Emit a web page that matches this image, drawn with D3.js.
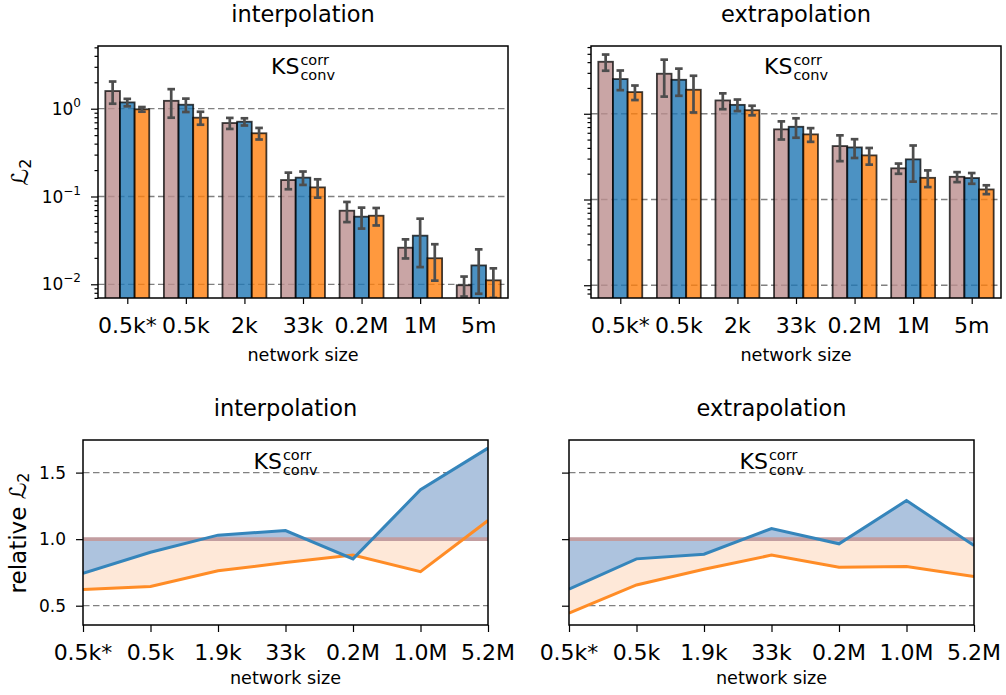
<!DOCTYPE html>
<html><head><meta charset="utf-8">
<script src="https://cdn.jsdelivr.net/npm/d3@7"></script>
<style>body{margin:0;background:#fff} svg{display:block} text{font-family:"DejaVu Sans",sans-serif;fill:#000}</style>
</head><body><svg id="c" width="1006" height="695"></svg>
<script>
// ---------- data ----------
const barLabels = ["0.5k*","0.5k","2k","33k","0.2M","1M","5m"];
const relLabels = ["0.5k*","0.5k","1.9k","33k","0.2M","1.0M","5.2M"];
const logMajorTicks = [0.01, 0.1, 1];
const logTickExponents = ["\u22122", "\u22121", "0"];
const relTicks = [0.5, 1.0, 1.5];
const relTickLabels = ["0.5", "1.0", "1.5"];

// interpolation, absolute L2 (pink = reference, blue, orange) with symmetric errors
const interpRef       = [1.59, 1.23, 0.687, 0.154, 0.0689, 0.0261, 0.00975];
const interpRefErr    = [0.45, 0.44, 0.0985, 0.033, 0.0178, 0.0064, 0.0025];
const interpBlue      = [1.18, 1.11, 0.711, 0.164, 0.0589, 0.0358, 0.0164];
const interpBlueErr   = [0.115, 0.193, 0.067, 0.0285, 0.0158, 0.0201, 0.0086];
const interpOrange    = [0.985, 0.79, 0.525, 0.127, 0.0604, 0.0198, 0.0111];
const interpOrangeErr = [0.06, 0.133, 0.079, 0.03, 0.0136, 0.0088, 0.0041];

// extrapolation, absolute L2
const extrapRef       = [4.04, 2.93, 1.43, 0.658, 0.42, 0.231, 0.184];
const extrapRefErr    = [0.865, 1.345, 0.30, 0.157, 0.14, 0.0315, 0.0245];
const extrapBlue      = [2.54, 2.49, 1.27, 0.705, 0.405, 0.294, 0.178];
const extrapBlueErr   = [0.655, 0.87, 0.195, 0.18, 0.10, 0.1325, 0.0255];
const extrapOrange    = [1.79, 1.905, 1.10, 0.575, 0.327, 0.179, 0.131];
const extrapOrangeErr = [0.345, 0.87, 0.141, 0.1045, 0.072, 0.0395, 0.0155];

// relative L2
const interpRelBlue   = [0.744, 0.902, 1.03, 1.065, 0.852, 1.371, 1.684];
const interpRelOrange = [0.621, 0.644, 0.762, 0.824, 0.88, 0.756, 1.14];
const extrapRelBlue   = [0.624, 0.852, 0.887, 1.08, 0.965, 1.29, 0.952];
const extrapRelOrange = [0.444, 0.656, 0.774, 0.88, 0.789, 0.794, 0.719];

// ---------- drawing ----------
const svg = d3.select("#c");
const defs = svg.append("defs");
const C = {ref:"#bc8f8f", blue:"#1f77b4", orange:"#ff7f0e"};
let clipId = 0;
function clip(x0,y0,x1,y1){
  const id = "clip"+(clipId++);
  defs.append("clipPath").attr("id",id).append("rect").attr("x",x0).attr("y",y0).attr("width",x1-x0).attr("height",y1-y0);
  return `url(#${id})`;
}
function ksLabel(cx, baseline){
  const g = svg.append("g");
  const t1 = g.append("text").attr("y",baseline).attr("font-size",22).text("KS");
  const w1 = t1.node().getComputedTextLength();
  const t2 = g.append("text").attr("x",w1+1).attr("y",baseline-9).attr("font-size",14.5).text("corr");
  const t3 = g.append("text").attr("x",w1+1).attr("y",baseline+6).attr("font-size",14.5).text("conv");
  const w = w1+1+Math.max(t2.node().getComputedTextLength(), t3.node().getComputedTextLength());
  g.attr("transform",`translate(${cx-w/2},0)`);
}
function title(cx, baseline, txt){
  svg.append("text").attr("x",cx).attr("y",baseline).attr("text-anchor","middle").attr("font-size",22.5).text(txt);
}
function xlabel(cx, baseline){
  svg.append("text").attr("x",cx).attr("y",baseline).attr("text-anchor","middle").attr("font-size",17.6).text("network size");
}
function ylabel(cx, cy, prefix){
  const t = svg.append("text").attr("transform",`translate(${cx},${cy}) rotate(-90)`)
    .attr("text-anchor","middle").attr("dominant-baseline","central").attr("font-size",23);
  t.append("tspan").text(prefix + "\u2112");
  t.append("tspan").attr("font-size",16).attr("dy",5).text("2");
}
function dashLine(g,x0,x1,yy){
  g.append("line").attr("x1",x0).attr("x2",x1).attr("y1",yy).attr("y2",yy)
    .attr("stroke","#808080").attr("stroke-width",1.3).attr("stroke-dasharray","6.5,3.5");
}

function barPanel(p){
  const {x0,x1,y0,y1,ydom,showY,series,ttl} = p;
  const x = d3.scaleLinear().domain([-0.5,6.5]).range([x0,x1]);
  const y = d3.scaleLog().domain(ydom).range([y1,y0]);
  const g = svg.append("g");
  const cp = clip(x0,y0,x1,y1);
  const inner = g.append("g").attr("clip-path",cp);
  logMajorTicks.forEach(v=>dashLine(inner,x0,x1,y(v)));
  const w = 0.25;
  series.forEach((s,k)=>{
    const off = (k-1)*w;
    inner.append("g").selectAll("rect").data(s.vals).join("rect")
      .attr("x",(d,i)=>x(i+off-w/2)).attr("width",x(w)-x(0))
      .attr("y",d=>y(d)).attr("height",d=>y1-y(d)+2)
      .attr("fill",s.color).attr("fill-opacity",0.8)
      .attr("stroke","#000").attr("stroke-opacity",0.75).attr("stroke-width",1.8);
    const eg = inner.append("g").attr("stroke","#4d4d4d").attr("stroke-width",2.7);
    s.vals.forEach((v,i)=>{
      const cx = x(i+off);
      const hi = y(v+s.err[i]);
      const lo = y(Math.max(v-s.err[i],1e-5));
      eg.append("line").attr("x1",cx).attr("x2",cx).attr("y1",hi).attr("y2",lo);
      eg.append("line").attr("x1",cx-3.8).attr("x2",cx+3.8).attr("y1",hi).attr("y2",hi);
      eg.append("line").attr("x1",cx-3.8).attr("x2",cx+3.8).attr("y1",lo).attr("y2",lo);
    });
  });
  // y ticks
  const minor = [];
  for(let e=-3;e<=1;e++) for(let m=2;m<=9;m++){const v=m*Math.pow(10,e); if(v>ydom[0]&&v<ydom[1]) minor.push(v);}
  const ax1 = g.append("g").attr("transform",`translate(${x0},0)`).call(d3.axisLeft(y).tickValues(minor).tickSize(3.5).tickFormat(""));
  const ax2 = g.append("g").attr("transform",`translate(${x0},0)`).call(d3.axisLeft(y).tickValues(logMajorTicks).tickSize(7).tickFormat(""));
  [ax1,ax2].forEach(a=>{a.select(".domain").remove(); a.selectAll("line").attr("stroke","#000").attr("stroke-width",1.2);});
  if(showY){
    logMajorTicks.forEach((v,i)=>{
      const t = g.append("text").attr("x",x0-17).attr("y",y(v)+6).attr("text-anchor","end").attr("font-size",17);
      t.append("tspan").text("10");
      t.append("tspan").attr("font-size",12).attr("dy",-8).text(logTickExponents[i]);
    });
  }
  // x ticks
  const axx = g.append("g").attr("transform",`translate(0,${y1})`).call(d3.axisBottom(x).tickValues(d3.range(7)).tickSize(6).tickFormat(""));
  axx.select(".domain").remove(); axx.selectAll("line").attr("stroke","#000").attr("stroke-width",1.2);
  barLabels.forEach((l,i)=>g.append("text").attr("x",x(i)).attr("y",332.5).attr("text-anchor","middle").attr("font-size",22).text(l));
  g.append("rect").attr("x",x0).attr("y",y0).attr("width",x1-x0).attr("height",y1-y0).attr("fill","none").attr("stroke","#000").attr("stroke-width",1.5);
  const cx = (x0+x1)/2;
  ksLabel(cx, y0+28);
  title(cx, 22, ttl);
  xlabel(cx, 361);
}

function relPanel(p){
  const {x0,x1,y0,y1,showY,blue,orange,ttl} = p;
  const x = d3.scaleLinear().domain([0,6]).range([x0,x1]);
  const y = d3.scaleLinear().domain([0.355,1.745]).range([y1,y0]);
  const g = svg.append("g");
  const inner = g.append("g").attr("clip-path",clip(x0,y0,x1,y1));
  dashLine(inner,x0,x1,y(0.5)); dashLine(inner,x0,x1,y(1.5));
  const area = d3.area().x((d,i)=>x(i)).y0(y(1)).y1(d=>y(d));
  inner.append("path").attr("d",area(orange)).attr("fill","#fee8d8");
  inner.append("path").attr("d",area(blue)).attr("fill","#adc3de");
  inner.append("line").attr("x1",x0).attr("x2",x1).attr("y1",y(1)).attr("y2",y(1)).attr("stroke","#c29da0").attr("stroke-width",3.6);
  const line = d3.line().x((d,i)=>x(i)).y(d=>y(d));
  inner.append("path").attr("d",line(orange)).attr("fill","none").attr("stroke","#ff8c26").attr("stroke-width",3);
  inner.append("path").attr("d",line(blue)).attr("fill","none").attr("stroke","#3585bb").attr("stroke-width",3);
  const ay = g.append("g").attr("transform",`translate(${x0},0)`).call(d3.axisLeft(y).tickValues(relTicks).tickSize(7).tickFormat(""));
  ay.select(".domain").remove(); ay.selectAll("line").attr("stroke","#000").attr("stroke-width",1.2);
  if(showY){
    relTicks.forEach((v,i)=>g.append("text").attr("x",x0-17).attr("y",y(v)+6.3).attr("text-anchor","end").attr("font-size",17).text(relTickLabels[i]));
  }
  const axx = g.append("g").attr("transform",`translate(0,${y1})`).call(d3.axisBottom(x).tickValues(d3.range(7)).tickSize(7).tickFormat(""));
  axx.select(".domain").remove(); axx.selectAll("line").attr("stroke","#000").attr("stroke-width",1.2);
  relLabels.forEach((l,i)=>g.append("text").attr("x",x(i)).attr("y",660).attr("text-anchor","middle").attr("font-size",22).text(l));
  g.append("rect").attr("x",x0).attr("y",y0).attr("width",x1-x0).attr("height",y1-y0).attr("fill","none").attr("stroke","#000").attr("stroke-width",1.5);
  const cx = (x0+x1)/2;
  ksLabel(cx, y0+29);
  title(cx, 416, ttl);
  xlabel(cx, 684);
}

barPanel({x0:98,x1:508,y0:46,y1:298,ydom:[0.00698,5.18],showY:true,ttl:"interpolation",
  series:[{vals:interpRef,err:interpRefErr,color:C.ref},{vals:interpBlue,err:interpBlueErr,color:C.blue},{vals:interpOrange,err:interpOrangeErr,color:C.orange}]});
barPanel({x0:591,x1:1001,y0:46,y1:298,ydom:[0.0071,6.17],showY:false,ttl:"extrapolation",
  series:[{vals:extrapRef,err:extrapRefErr,color:C.ref},{vals:extrapBlue,err:extrapBlueErr,color:C.blue},{vals:extrapOrange,err:extrapOrangeErr,color:C.orange}]});
relPanel({x0:83,x1:488,y0:440,y1:625,showY:true,blue:interpRelBlue,orange:interpRelOrange,ttl:"interpolation"});
relPanel({x0:569,x1:974,y0:440,y1:625,showY:false,blue:extrapRelBlue,orange:extrapRelOrange,ttl:"extrapolation"});
ylabel(20,172,"");
ylabel(18,533,"relative ");
</script></body></html>
